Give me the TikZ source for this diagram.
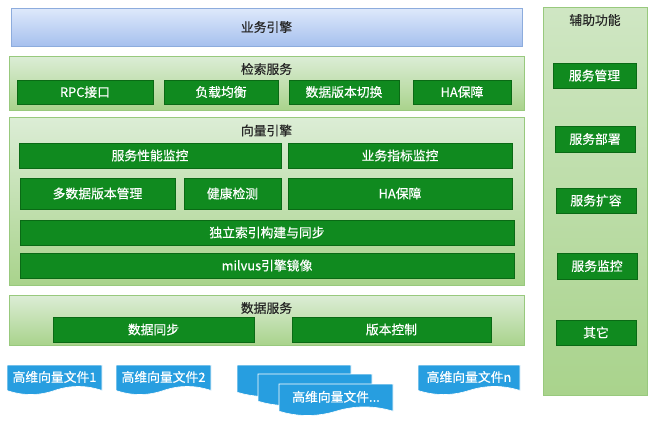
\documentclass[tikz,border=0pt]{standalone}
\usepackage{fontspec}
\setmainfont{Noto Sans CJK SC}[FakeBold=0.4]
\begin{document}
\begin{tikzpicture}[x=1pt,y=-1pt,
  font=\fontsize{12.8}{14}\selectfont,
  bluebar/.style={draw=bluebd, top color=bluetop, bottom color=bluebot, line width=0.6pt},
  cont/.style={draw=greenbd, top color=greentop, bottom color=greenbot, line width=0.6pt},
  item/.style={draw=itembd, fill=itemfill, line width=0.5pt},
  itemtext/.style={text=white},
  title/.style={text=black!85},
  doc/.style={draw=white, fill=docfill, line width=0.6pt},
  doctext/.style={text=white}
]
\definecolor{bluetop}{HTML}{DEE9FB}
\definecolor{bluebot}{HTML}{A6C0EE}
\definecolor{bluebd}{HTML}{8DACDD}
\definecolor{greentop}{HTML}{DCEDD6}
\definecolor{greenbot}{HTML}{A9D38C}
\definecolor{greenbd}{HTML}{98C97D}
\definecolor{itemfill}{HTML}{108A1F}
\definecolor{itembd}{HTML}{0A6A15}
\definecolor{docfill}{HTML}{279EE0}

\useasboundingbox (0,0) rectangle (656,424);
\fill[white] (0,0) rectangle (656,424);

\newcommand\boxat[6]{% name, x1,y1,x2,y2, text
  \draw[item] (#2,#3) rectangle (#4,#5);
  \node[itemtext] (#1) at ({(#2+#4)/2},{(#3+#5)/2}) {#6};}
\newcommand\vdoc[6]{% name, x, y, w, h, text
  \draw[doc] (#2,#3) -- ({#2+#4},#3) -- ({#2+#4},{#3+0.85*#5})
    .. controls ({#2+0.8333*#4},{#3+0.67*#5}) and ({#2+0.6667*#4},{#3+0.67*#5}) .. ({#2+0.5*#4},{#3+0.85*#5})
    .. controls ({#2+0.3333*#4},{#3+1.03*#5}) and ({#2+0.1667*#4},{#3+1.03*#5}) .. (#2,{#3+0.85*#5}) -- cycle;
  \node[doctext] (#1) at ({#2+#4/2},{#3+0.4*#5}) {#6};}

% 业务引擎
\draw[bluebar] (11,8) rectangle (522,46);
\node[title] (biz) at (266.5,27) {业务引擎};

% 检索服务
\draw[cont] (9,56) rectangle (524,110);
\node[title] (search) at (266.5,69) {检索服务};
\boxat{rpc}{17}{80}{153}{104}{RPC接口}
\boxat{lb}{164}{80}{278}{104}{负载均衡}
\boxat{ver}{289}{80}{399}{104}{数据版本切换}
\boxat{ha1}{413}{80}{511}{104}{HA保障}

% 向量引擎
\draw[cont] (9,117) rectangle (524,285);
\node[title] (vec) at (266.5,130.5) {向量引擎};
\boxat{perf}{19}{143}{281}{168}{服务性能监控}
\boxat{bizm}{288}{143}{512}{168}{业务指标监控}
\boxat{multi}{20}{178}{175}{209}{多数据版本管理}
\boxat{health}{184}{178}{281}{209}{健康检测}
\boxat{ha2}{288}{178}{512}{209}{HA保障}
\boxat{idx}{20}{220}{514}{245}{独立索引构建与同步}
\boxat{milvus}{20}{253}{514}{278}{milvus引擎镜像}

% 数据服务
\draw[cont] (9,295) rectangle (524,345);
\node[title] (data) at (266.5,308) {数据服务};
\boxat{sync}{53}{317}{254}{342}{数据同步}
\boxat{vctl}{292}{317}{491}{342}{版本控制}

% 辅助功能
\draw[cont, top color=greentop!75!greenbot] (543,7) rectangle (647,395);
\node[title] (aux) at (595,20) {辅助功能};
\boxat{mgmt}{553}{63}{636}{88}{服务管理}
\boxat{deploy}{555}{126}{635}{152}{服务部署}
\boxat{scale}{556}{188}{636}{213}{服务扩容}
\boxat{mon}{557}{253}{637}{279}{服务监控}
\boxat{other}{556}{320}{636}{345}{其它}

% files
\vdoc{f1}{7}{365}{95}{30}{高维向量文件1}
\vdoc{f2}{116}{365}{95}{30}{高维向量文件2}
\vdoc{fa}{237}{365}{114}{32}{}
\vdoc{fb}{258}{374}{114}{32}{}
\vdoc{fc}{279}{384}{114}{32}{高维向量文件...}
\vdoc{fn}{418}{365}{102}{30}{高维向量文件n}
\end{tikzpicture}
\end{document}
